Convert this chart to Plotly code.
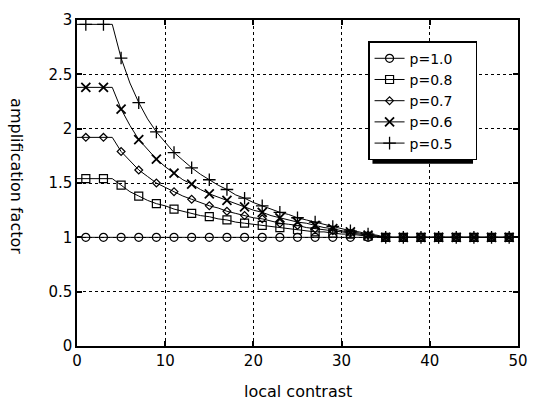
import plotly.graph_objects as go

# local contrast sample positions (line drawn at integer contrast, markers every other point)
contrast = list(range(0, 51))

series_names = ["p=1.0", "p=0.8", "p=0.7", "p=0.6", "p=0.5"]

amp_p10 = [1.0, 1.0, 1.0, 1.0, 1.0, 1.0, 1.0, 1.0, 1.0, 1.0,
           1.0, 1.0, 1.0, 1.0, 1.0, 1.0, 1.0, 1.0, 1.0, 1.0,
           1.0, 1.0, 1.0, 1.0, 1.0, 1.0, 1.0, 1.0, 1.0, 1.0,
           1.0, 1.0, 1.0, 1.0, 1.0, 1.0, 1.0, 1.0, 1.0, 1.0,
           1.0, 1.0, 1.0, 1.0, 1.0, 1.0, 1.0, 1.0, 1.0, 1.0, 1.0]

amp_p08 = [1.54, 1.54, 1.54, 1.54, 1.54, 1.48, 1.42, 1.38, 1.34, 1.31,
           1.29, 1.26, 1.24, 1.22, 1.20, 1.19, 1.17, 1.16, 1.14, 1.13,
           1.12, 1.11, 1.10, 1.09, 1.08, 1.07, 1.06, 1.05, 1.05, 1.04,
           1.03, 1.03, 1.02, 1.01, 1.01, 1.0, 1.0, 1.0, 1.0, 1.0,
           1.0, 1.0, 1.0, 1.0, 1.0, 1.0, 1.0, 1.0, 1.0, 1.0, 1.0]

amp_p07 = [1.92, 1.92, 1.92, 1.92, 1.92, 1.79, 1.70, 1.62, 1.56, 1.50,
           1.46, 1.42, 1.38, 1.35, 1.32, 1.29, 1.27, 1.24, 1.22, 1.20,
           1.18, 1.17, 1.15, 1.13, 1.12, 1.11, 1.09, 1.08, 1.07, 1.06,
           1.05, 1.04, 1.03, 1.02, 1.01, 1.0, 1.0, 1.0, 1.0, 1.0,
           1.0, 1.0, 1.0, 1.0, 1.0, 1.0, 1.0, 1.0, 1.0, 1.0, 1.0]

amp_p06 = [2.38, 2.38, 2.38, 2.38, 2.38, 2.18, 2.03, 1.90, 1.81, 1.72,
           1.65, 1.59, 1.53, 1.49, 1.44, 1.40, 1.37, 1.34, 1.31, 1.28,
           1.25, 1.23, 1.20, 1.18, 1.16, 1.14, 1.13, 1.11, 1.09, 1.08,
           1.06, 1.05, 1.04, 1.02, 1.01, 1.0, 1.0, 1.0, 1.0, 1.0,
           1.0, 1.0, 1.0, 1.0, 1.0, 1.0, 1.0, 1.0, 1.0, 1.0, 1.0]

amp_p05 = [2.96, 2.96, 2.96, 2.96, 2.96, 2.65, 2.42, 2.24, 2.09, 1.97,
           1.87, 1.78, 1.71, 1.64, 1.58, 1.53, 1.48, 1.44, 1.39, 1.36,
           1.32, 1.29, 1.26, 1.23, 1.21, 1.18, 1.16, 1.14, 1.12, 1.10,
           1.08, 1.06, 1.05, 1.03, 1.02, 1.0, 1.0, 1.0, 1.0, 1.0,
           1.0, 1.0, 1.0, 1.0, 1.0, 1.0, 1.0, 1.0, 1.0, 1.0, 1.0]

series_values = [amp_p10, amp_p08, amp_p07, amp_p06, amp_p05]
symbols = ["circle-open", "square-open", "diamond-open", "x-thin-open", "cross-thin-open"]
sizes = [8, 8, 6, 9, 9]
mlw = [1.2, 1.2, 1.2, 1.8, 1.3]

x_ticks = [0, 10, 20, 30, 40, 50]
y_ticks = [0, 0.5, 1, 1.5, 2, 2.5, 3]
y_ticklabels = ["0", "0.5", "1", "1.5", "2", "2.5", "3"]

FONT = "DejaVu Sans"
NBSP = "\u00a0"
fig = go.Figure()

for name, vals, sym, sz, lw in zip(series_names, series_values, symbols, sizes, mlw):
    # continuous curve
    fig.add_trace(go.Scatter(x=contrast, y=vals, mode="lines",
                             line=dict(color="black", width=1),
                             showlegend=False, hoverinfo="skip"))
    # markers on odd contrast values
    fig.add_trace(go.Scatter(x=contrast[1::2], y=vals[1::2], mode="markers",
                             marker=dict(symbol=sym, size=sz, color="black",
                                         line=dict(color="black", width=lw)),
                             showlegend=False))
    # legend entry
    fig.add_trace(go.Scatter(x=[None], y=[None], mode="lines+markers",
                             name=name + NBSP * 4,
                             line=dict(color="black", width=1),
                             marker=dict(symbol=sym, size=sz, color="black",
                                         line=dict(color="black", width=lw))))

axis_common = dict(showline=True, linecolor="black", linewidth=1.5, mirror="ticks",
                   ticks="inside", ticklen=5, tickcolor="black", tickwidth=1.5,
                   showgrid=True, gridcolor="black", gridwidth=1, griddash="dot",
                   zeroline=False, tickfont=dict(family=FONT, size=15, color="black"))

fig.update_layout(
    width=539, height=403,
    margin=dict(l=77, r=11, t=16, b=57),
    paper_bgcolor="white", plot_bgcolor="white",
    font=dict(family=FONT, color="black"),
    xaxis=dict(range=[0, 50], tickvals=x_ticks, **axis_common),
    yaxis=dict(range=[0, 3], tickvals=y_ticks, ticktext=y_ticklabels, **axis_common),
    legend=dict(x=0.66, y=0.935, xanchor="left", yanchor="top",
                bgcolor="white", bordercolor="black", borderwidth=1.5,
                font=dict(family=FONT, size=14, color="black"),
                tracegroupgap=0),
    showlegend=True,
)

# drop shadow behind the legend box
fig.add_shape(type="rect", xref="paper", yref="paper",
              x0=0.67, x1=0.898, y0=0.559, y1=0.91,
              fillcolor="black", line=dict(width=0), layer="above")

fig.add_annotation(text="local contrast", xref="paper", yref="paper",
                   x=0.5, y=-0.14, yanchor="middle", showarrow=False,
                   font=dict(family=FONT, size=16, color="black"))
fig.add_annotation(text="amplification factor", xref="paper", yref="paper",
                   x=-0.1375, y=0.52, xanchor="center", yanchor="middle",
                   textangle=90, showarrow=False,
                   font=dict(family=FONT, size=16, color="black"))

fig.write_html("out.html")
